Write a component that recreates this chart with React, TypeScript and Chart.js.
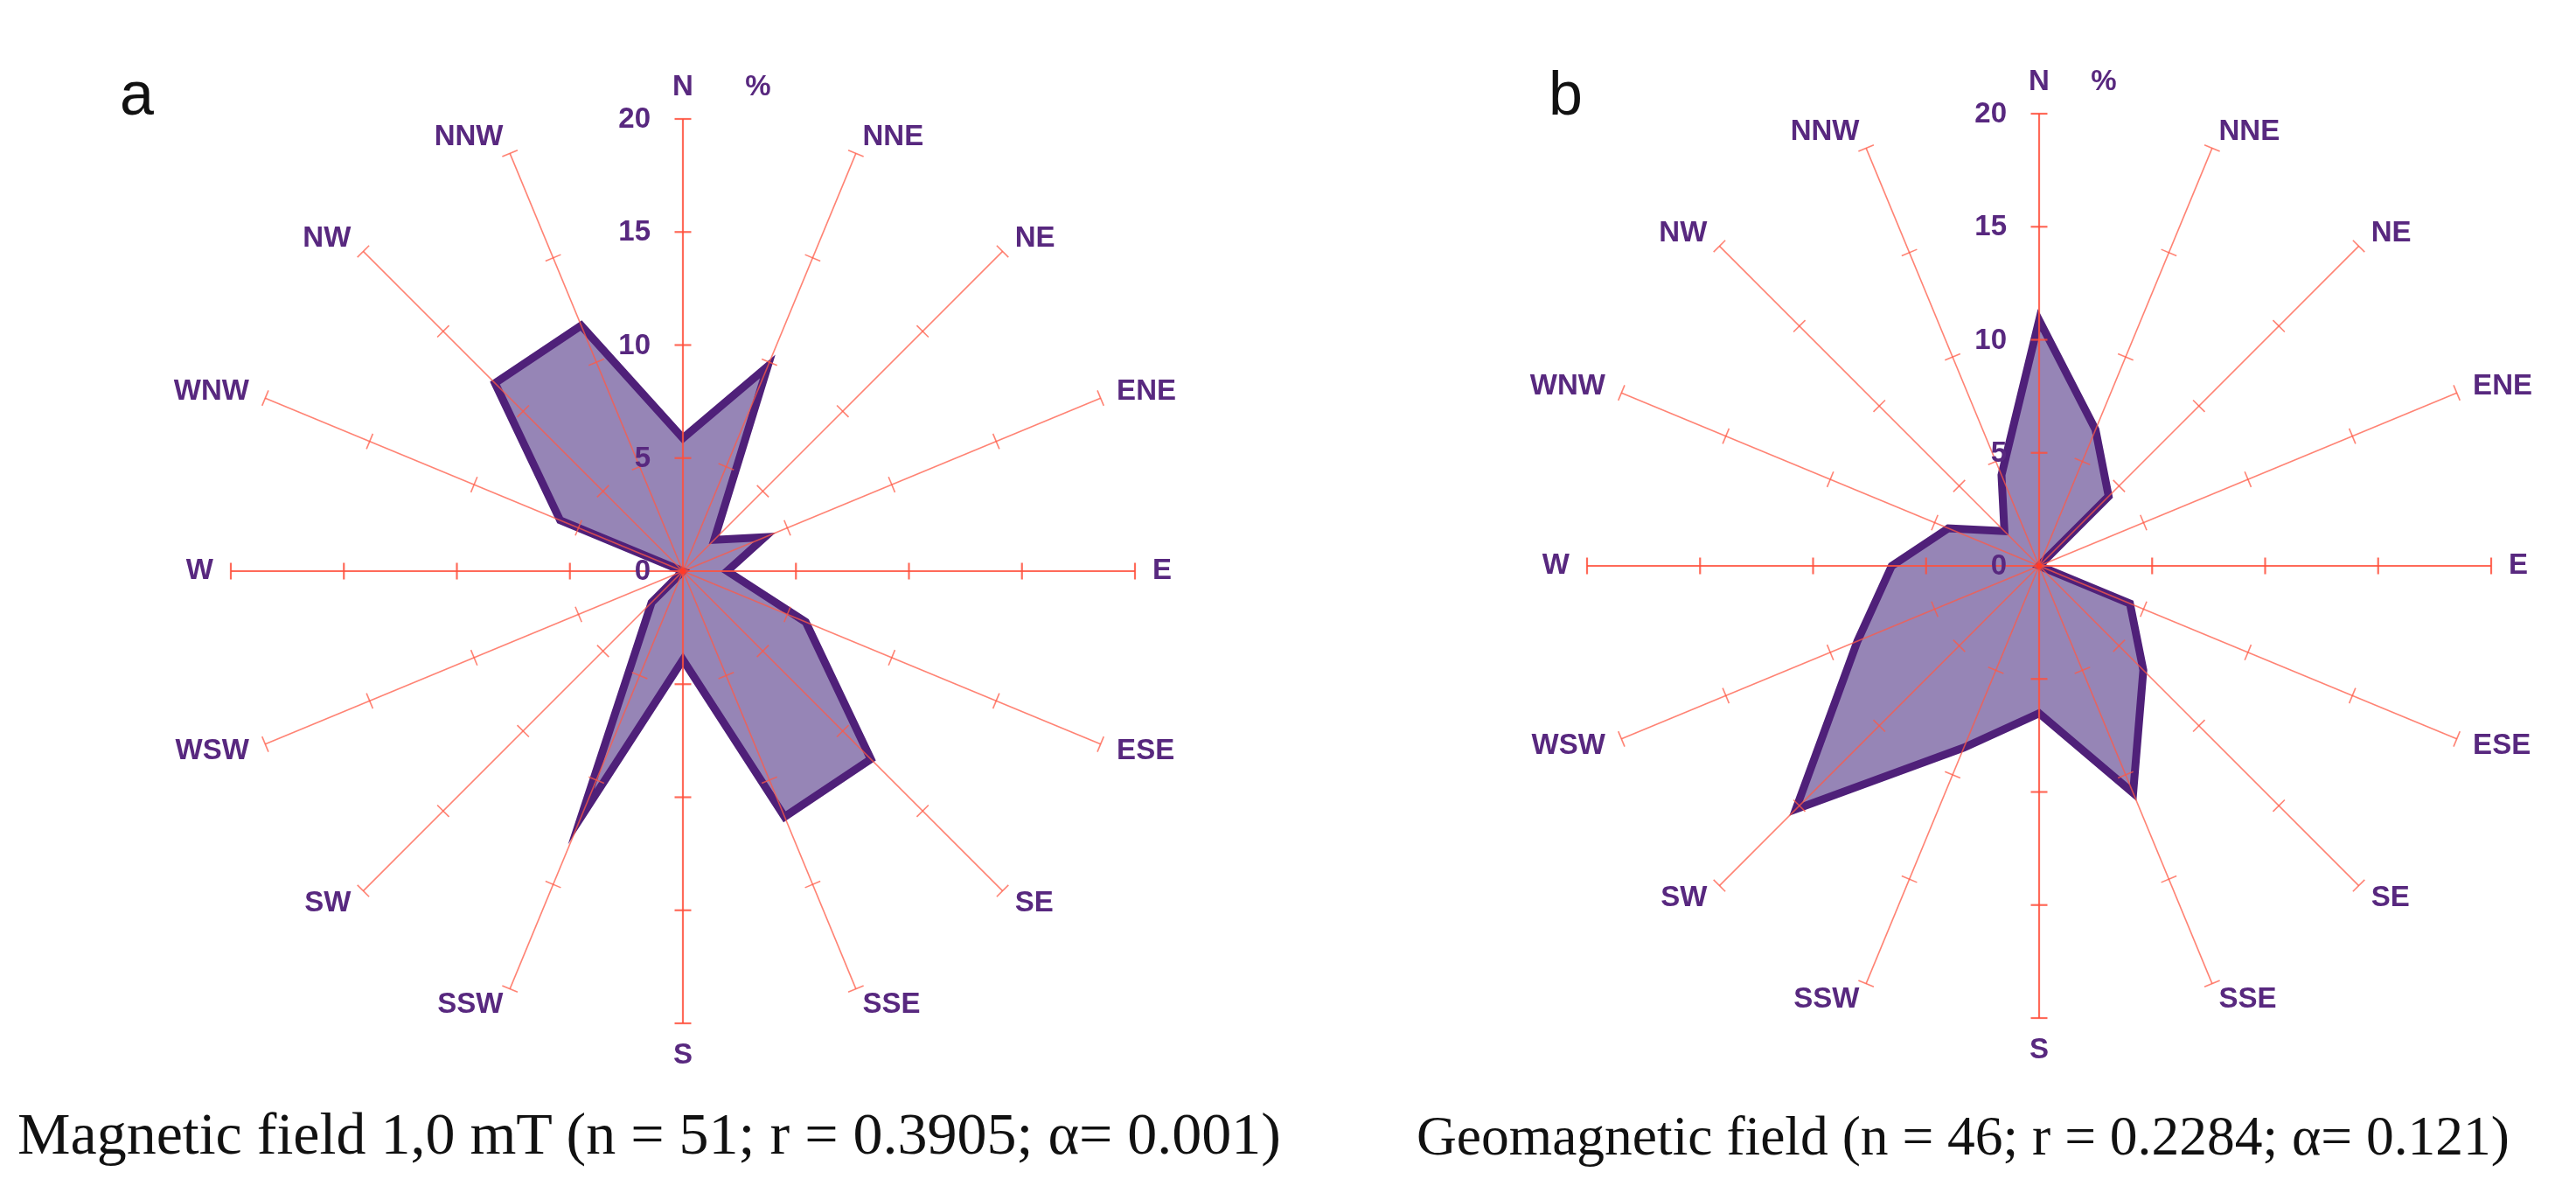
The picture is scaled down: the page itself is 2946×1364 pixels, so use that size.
import React, { useEffect, useRef } from 'react';
import { Chart, registerables } from 'chart.js';

Chart.register(...registerables);

// ---- data ----
const directions = ['N', 'NNE', 'NE', 'ENE', 'E', 'ESE', 'SE', 'SSE', 'S', 'SSW', 'SW', 'WSW', 'W', 'WNW', 'NW', 'NNW'];
const magneticValues = [5.88, 9.8, 1.96, 3.92, 1.96, 5.88, 11.76, 11.76, 3.92, 11.76, 1.96, 0, 0, 5.88, 11.76, 11.76];
const geomagneticValues = [10.87, 6.52, 4.35, 0, 0, 4.35, 6.52, 10.87, 6.52, 8.7, 15.22, 8.7, 6.52, 4.35, 2.17, 4.35];
const tickValues = [0, 5, 10, 15, 20];
const unitLabel = '%';
const panelLabels = ['a', 'b'];
const captions = [
  'Magnetic field 1,0 mT (n = 51; r = 0.3905; α= 0.001)',
  'Geomagnetic field (n = 46; r = 0.2284; α= 0.121)',
];

// ---- styles ----
const TEXT_PURPLE = '#58287f';
const FILL = '#9685b6';
const BORDER = '#4f2079';
const SPOKE_MAIN = 'rgba(255, 80, 60, 0.85)';
const SPOKE = 'rgba(255, 90, 70, 0.75)';
const LABEL_FONT = 'bold 33px "Liberation Sans", Arial, sans-serif';

const roseDecor = {
  id: 'roseDecor',
  afterDraw(chart: any, _args: any, opts: any) {
    const scale = chart.scales.r;
    const ctx = chart.ctx as CanvasRenderingContext2D;
    const labels = chart.data.labels as string[];
    const n = labels.length;
    ctx.save();
    // tick marks on every spoke
    for (let i = 0; i < n; i++) {
      const a = scale.getIndexAngle(i) - Math.PI / 2;
      const perpX = -Math.sin(a);
      const perpY = Math.cos(a);
      const main = i % 4 === 0;
      ctx.strokeStyle = main ? SPOKE_MAIN : SPOKE;
      ctx.lineWidth = main ? 2.2 : 1.6;
      for (const v of tickValues) {
        if (v === 0) continue;
        const p = scale.getPointPosition(i, scale.getDistanceFromCenterForValue(v));
        ctx.beginPath();
        ctx.moveTo(p.x - perpX * 9.5, p.y - perpY * 9.5);
        ctx.lineTo(p.x + perpX * 9.5, p.y + perpY * 9.5);
        ctx.stroke();
      }
    }
    // center dot
    ctx.fillStyle = '#ff3a28';
    ctx.beginPath();
    ctx.arc(scale.xCenter, scale.yCenter, 3.5, 0, Math.PI * 2);
    ctx.fill();
    // tick labels
    ctx.fillStyle = TEXT_PURPLE;
    ctx.font = LABEL_FONT;
    ctx.textAlign = 'right';
    ctx.textBaseline = 'middle';
    for (const v of tickValues) {
      const d = scale.getDistanceFromCenterForValue(v);
      ctx.fillText(String(v), scale.xCenter - 37, scale.yCenter - d + 1);
    }
    // direction labels
    const R = scale.drawingArea;
    for (let i = 0; i < n; i++) {
      const p = scale.getPointPosition(i, R + 20);
      const deg = Math.round((scale.getIndexAngle(i) * 180) / Math.PI) % 360;
      ctx.textAlign = deg === 0 || deg === 180 ? 'center' : deg < 180 ? 'left' : 'right';
      ctx.textBaseline = deg === 0 ? 'bottom' : deg === 180 ? 'top' : 'middle';
      ctx.fillText(labels[i], p.x, p.y);
    }
    // unit label
    const top = scale.getPointPosition(0, R + 20);
    ctx.textAlign = 'center';
    ctx.textBaseline = 'bottom';
    ctx.fillText(unitLabel, scale.xCenter + opts.percentOffset, top.y);
    ctx.restore();
  },
};

type RoseProps = {
  values: number[];
  left: number;
  pad: { left: number; right: number; top: number; bottom: number };
  percentOffset: number;
};

function RoseChart({ values, left, pad, percentOffset }: RoseProps) {
  const ref = useRef<HTMLCanvasElement>(null);
  useEffect(() => {
    const chart = new Chart(ref.current as HTMLCanvasElement, {
      type: 'radar',
      data: {
        labels: directions,
        datasets: [
          {
            data: values,
            backgroundColor: FILL,
            borderColor: BORDER,
            borderWidth: 9,
            borderJoinStyle: 'miter',
            fill: true,
            pointRadius: 0,
            pointHoverRadius: 0,
          } as any,
        ],
      },
      options: {
        responsive: false,
        animation: false,
        layout: { padding: pad },
        plugins: {
          legend: { display: false },
          tooltip: { enabled: false },
          roseDecor: { percentOffset },
        } as any,
        scales: {
          r: {
            min: 0,
            max: 20,
            startAngle: 0,
            ticks: { display: false, stepSize: 5 },
            grid: { display: false, z: 1 } as any,
            angleLines: {
              display: true,
              color: (c: any) => (c.index % 4 === 0 ? SPOKE_MAIN : SPOKE),
              lineWidth: (c: any) => (c.index % 4 === 0 ? 2.2 : 1.6),
            },
            pointLabels: { display: false },
          },
        },
      },
      plugins: [roseDecor],
    });
    return () => chart.destroy();
  }, []);
  return (
    <canvas
      ref={ref}
      width={1473}
      height={1364}
      style={{ position: 'absolute', left, top: 0, width: 1473, height: 1364 }}
    />
  );
}

const captionStyle: React.CSSProperties = {
  position: 'absolute',
  fontFamily: '"Liberation Serif", "Times New Roman", serif',
  lineHeight: 1,
  whiteSpace: 'nowrap',
  color: '#111',
};

const panelStyle: React.CSSProperties = {
  position: 'absolute',
  fontFamily: '"Liberation Sans", Arial, sans-serif',
  fontSize: 70,
  lineHeight: 1,
  color: '#111',
};

export default function App() {
  return (
    <div
      style={{
        position: 'absolute',
        left: 0,
        top: 0,
        width: 2946,
        height: 1364,
        overflow: 'hidden',
        background: '#fff',
      }}
    >
      <RoseChart
        values={magneticValues}
        left={0}
        pad={{ left: 264, right: 175, top: 136, bottom: 194 }}
        percentOffset={86}
      />
      <RoseChart
        values={geomagneticValues}
        left={1473}
        pad={{ left: 342, right: 97, top: 130, bottom: 200 }}
        percentOffset={74}
      />
      <div style={{ ...panelStyle, left: 137, top: 72 }}>{panelLabels[0]}</div>
      <div style={{ ...panelStyle, left: 1771, top: 72 }}>{panelLabels[1]}</div>
      <div style={{ ...captionStyle, left: 20, top: 1262, fontSize: 68 }}>{captions[0]}</div>
      <div style={{ ...captionStyle, left: 1620, top: 1267, fontSize: 63.5 }}>{captions[1]}</div>
    </div>
  );
}
